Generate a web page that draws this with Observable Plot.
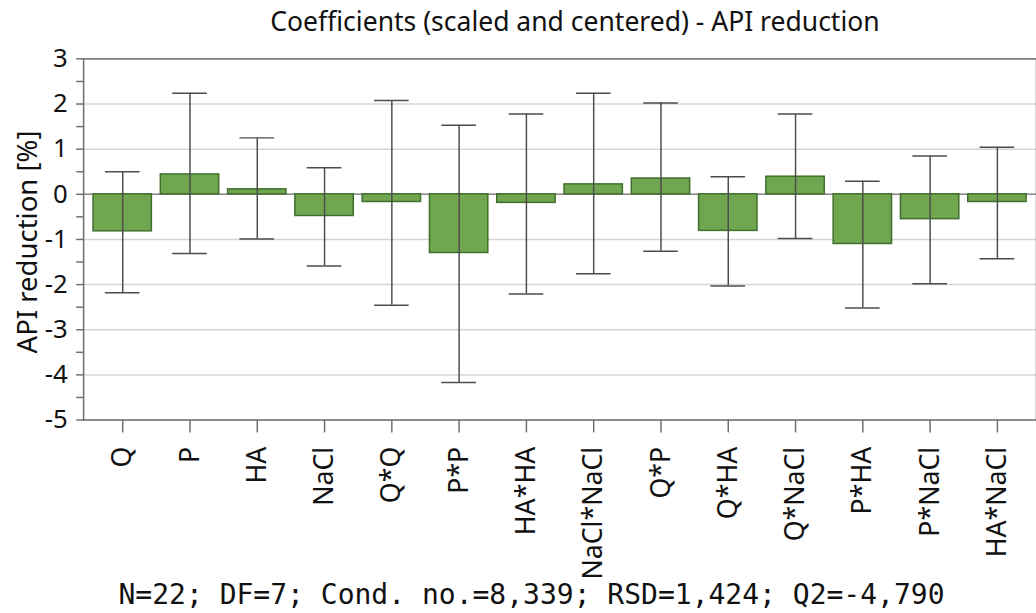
<!DOCTYPE html>
<html>
<head>
<meta charset="utf-8">
<script src="https://cdn.jsdelivr.net/npm/d3@7"></script>
<script src="https://cdn.jsdelivr.net/npm/@observablehq/plot@0.6"></script>
<style>
  html, body { margin: 0; padding: 0; overflow: hidden; background: #fff; }
  #wrap { position: relative; width: 1036px; height: 613px; overflow: hidden; }
  #chart { position: absolute; left: 0; top: 0; }
  .title { position: absolute; top: 3px; left: 0; width: 1150px; text-align: center;
           font-family: "Noto Sans", "Open Sans", sans-serif; font-size: 26.5px; color: #111; white-space: nowrap; }
  .caption { position: absolute; top: 578px; left: 0; width: 1063px; text-align: center;
             font-family: "DejaVu Sans Mono", "Liberation Mono", monospace; font-size: 28px; color: #111; white-space: nowrap; }
  .ylabel { position: absolute; left: 26px; top: 242px; transform: translate(-50%, -50%) rotate(-90deg);
            font-family: "Noto Sans", "Open Sans", sans-serif; font-size: 27.5px; color: #111; white-space: nowrap; }
</style>
</head>
<body>
<div id="wrap">
  <div id="chart"></div>
  <div class="title">Coefficients (scaled and centered) - API reduction</div>
  <div class="ylabel">API reduction [%]</div>
  <div class="caption">N=22; DF=7; Cond. no.=8,339; RSD=1,424; Q2=-4,790</div>
</div>
<script>
const terms = ["Q","P","HA","NaCl","Q*Q","P*P","HA*HA","NaCl*NaCl","Q*P","Q*HA","Q*NaCl","P*HA","P*NaCl","HA*NaCl"];
const coef   = [-0.82, 0.44, 0.11, -0.48, -0.17, -1.30, -0.19, 0.22, 0.35, -0.81, 0.39, -1.10, -0.55, -0.17];
const ciLow  = [-2.18, -1.31, -0.99, -1.59, -2.46, -4.17, -2.21, -1.76, -1.26, -2.03, -0.98, -2.52, -1.98, -1.43];
const ciHigh = [0.50, 2.24, 1.25, 0.59, 2.08, 1.53, 1.78, 2.24, 2.02, 0.39, 1.78, 0.29, 0.85, 1.04];
const yTicks = [-5, -4, -3, -2, -1, 0, 1, 2, 3];

const data = terms.map((t, i) => ({term: t, coef: coef[i], lo: ciLow[i], hi: ciHigh[i]}));

const axisColor = "#6e6e6e";
const errColor = "#4d4d4d";

const plot = Plot.plot({
  width: 1047,
  height: 613,
  marginTop: 59,
  marginBottom: 189,
  marginLeft: 84,
  marginRight: 0,
  style: {fontFamily: "'Noto Sans', 'Open Sans', sans-serif", color: "#111", background: "#fff"},
  x: {domain: terms, paddingInner: 0.13, paddingOuter: 0.065, label: null},
  y: {domain: [-5, 3], label: null},
  marks: [
    Plot.gridY(yTicks, {stroke: "#d4d4d4", strokeOpacity: 1, strokeWidth: 1.5}),
    Plot.ruleY([0], {stroke: "#8a8a8a", strokeWidth: 1.5}),
    Plot.barY(data, {x: "term", y: "coef", fill: "#6fa64f", stroke: "#3f6f2c", strokeWidth: 1.5}),
    Plot.ruleX(data, {x: "term", y1: "lo", y2: "hi", stroke: errColor, strokeWidth: 1.5}),
    Plot.tickY(data, {x: "term", y: "hi", stroke: errColor, strokeWidth: 1.5, insetLeft: 12, insetRight: 12}),
    Plot.tickY(data, {x: "term", y: "lo", stroke: errColor, strokeWidth: 1.5, insetLeft: 12, insetRight: 12}),
    Plot.frame({stroke: axisColor, strokeWidth: 1.5}),
    Plot.axisY(d3.range(-5, 3.01, 0.5), {
      tickSize: 7, tickPadding: 9, fontSize: 26, stroke: axisColor, strokeWidth: 1.5,
      tickFormat: d => Number.isInteger(d) ? String(d).replace("−", "-") : "",
      label: null
    }),
    Plot.axisX({
      tickSize: 13, tickPadding: 14, tickRotate: -90, fontSize: 27, stroke: axisColor, strokeWidth: 1.5, label: null
    })
  ]
});
document.getElementById("chart").appendChild(plot);
</script>
</body>
</html>
